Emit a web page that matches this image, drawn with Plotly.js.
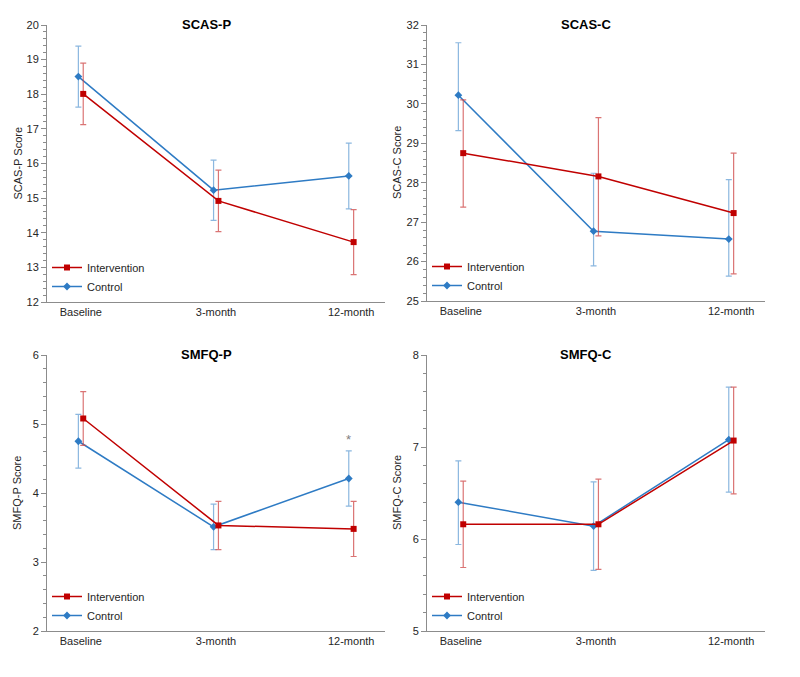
<!DOCTYPE html>
<html>
<head>
<meta charset="utf-8">
<script src="https://cdn.plot.ly/plotly-3.0.1.min.js"></script>
<style>
  html, body { margin: 0; padding: 0; background: #fff; }
  #myPlot { width: 800px; height: 677px; }
</style>
</head>
<body>
<div id="myPlot"></div>
<script>
const timepoints = ['Baseline', '3-month', '12-month'];
const groupNames = ['Intervention', 'Control'];

// SCAS-P
const scasP_int = [18.01, 14.92, 13.73];
const scasP_int_up = [0.89, 0.89, 0.94];
const scasP_int_down = [0.89, 0.89, 0.94];
const scasP_ctl = [18.51, 15.23, 15.64];
const scasP_ctl_up = [0.88, 0.87, 0.95];
const scasP_ctl_down = [0.88, 0.87, 0.95];

// SCAS-C
const scasC_int = [28.75, 28.16, 27.23];
const scasC_int_up = [1.35, 1.49, 1.52];
const scasC_int_down = [1.37, 1.51, 1.54];
const scasC_ctl = [30.22, 26.77, 26.57];
const scasC_ctl_up = [1.33, 1.47, 1.51];
const scasC_ctl_down = [0.90, 0.88, 0.94];

// SMFQ-P
const smfqP_int = [5.08, 3.53, 3.48];
const smfqP_int_up = [0.39, 0.35, 0.40];
const smfqP_int_down = [0.39, 0.35, 0.40];
const smfqP_ctl = [4.75, 3.51, 4.21];
const smfqP_ctl_up = [0.39, 0.33, 0.40];
const smfqP_ctl_down = [0.39, 0.33, 0.40];

// SMFQ-C
const smfqC_int = [6.16, 6.16, 7.07];
const smfqC_int_up = [0.47, 0.49, 0.58];
const smfqC_int_down = [0.47, 0.49, 0.58];
const smfqC_ctl = [6.40, 6.14, 7.08];
const smfqC_ctl_up = [0.45, 0.48, 0.57];
const smfqC_ctl_down = [0.46, 0.48, 0.57];

const panelTitles = ['SCAS-P', 'SCAS-C', 'SMFQ-P', 'SMFQ-C'];
const axisTitles = ['SCAS-P Score', 'SCAS-C Score', 'SMFQ-P Score', 'SMFQ-C Score'];
const yRanges = [[12, 20], [25, 32], [2, 6], [5, 8]];

const RED = '#C00000';
const BLUE = '#2E7BC4';
const RED_ERR = 'rgba(205, 70, 70, 0.75)';
const BLUE_ERR = 'rgba(110, 165, 215, 0.8)';
const AXIS_COLOR = '#8c8c8c';
const TEXT_COLOR = '#262626';
const FONT = '"Liberation Sans", Arial, sans-serif';

// small horizontal shift so the two groups don't sit on top of each other
const shift = 0.018;
const xIdx = timepoints.map((t, i) => i);

const panels = [
    {int: scasP_int, intUp: scasP_int_up, intDown: scasP_int_down, ctl: scasP_ctl, ctlUp: scasP_ctl_up, ctlDown: scasP_ctl_down},
    {int: scasC_int, intUp: scasC_int_up, intDown: scasC_int_down, ctl: scasC_ctl, ctlUp: scasC_ctl_up, ctlDown: scasC_ctl_down},
    {int: smfqP_int, intUp: smfqP_int_up, intDown: smfqP_int_down, ctl: smfqP_ctl, ctlUp: smfqP_ctl_up, ctlDown: smfqP_ctl_down},
    {int: smfqC_int, intUp: smfqC_int_up, intDown: smfqC_int_down, ctl: smfqC_ctl, ctlUp: smfqC_ctl_up, ctlDown: smfqC_ctl_down}
];

// pixel boxes of each plot area, converted to paper fractions
const W = 800, H = 677;
const boxes = [
    {l: 47, r: 385, t: 25, b: 302},
    {l: 427, r: 765, t: 25, b: 301},
    {l: 47, r: 385, t: 355, b: 631},
    {l: 427, r: 765, t: 355, b: 631}
];

const traces = [];
const layout = {
    width: W,
    height: H,
    margin: {l: 0, r: 0, t: 0, b: 0},
    paper_bgcolor: '#fff',
    plot_bgcolor: '#fff',
    font: {family: FONT, size: 11, color: TEXT_COLOR},
    showlegend: true,
    annotations: []
};

panels.forEach((p, k) => {
    const n = k + 1;
    const sfx = n === 1 ? '' : String(n);
    const legendId = 'legend' + sfx;
    const box = boxes[k];

    // control first so the intervention series draws on top
    traces.push({
        type: 'scatter',
        mode: 'lines+markers',
        name: groupNames[1],
        x: xIdx.map(v => v - shift),
        y: p.ctl,
        xaxis: 'x' + sfx,
        yaxis: 'y' + sfx,
        legend: legendId,
        line: {color: BLUE, width: 1.5},
        marker: {symbol: 'diamond', size: 6, color: BLUE},
        error_y: {type: 'data', symmetric: false, array: p.ctlUp, arrayminus: p.ctlDown,
                  color: BLUE_ERR, thickness: 1.2, width: 3}
    });
    traces.push({
        type: 'scatter',
        mode: 'lines+markers',
        name: groupNames[0],
        x: xIdx.map(v => v + shift),
        y: p.int,
        xaxis: 'x' + sfx,
        yaxis: 'y' + sfx,
        legend: legendId,
        line: {color: RED, width: 1.5},
        marker: {symbol: 'square', size: 6, color: RED},
        error_y: {type: 'data', symmetric: false, array: p.intUp, arrayminus: p.intDown,
                  color: RED_ERR, thickness: 1.2, width: 3}
    });

    layout['xaxis' + sfx] = {
        domain: [box.l / W, box.r / W],
        anchor: 'y' + sfx,
        range: [-0.25, 2.25],
        tickvals: xIdx,
        ticktext: timepoints,
        showline: true,
        linecolor: AXIS_COLOR,
        linewidth: 1,
        ticks: '',
        showgrid: false,
        zeroline: false,
        tickfont: {size: 11, color: TEXT_COLOR},
        fixedrange: true
    };
    layout['yaxis' + sfx] = {
        domain: [1 - box.b / H, 1 - box.t / H],
        anchor: 'x' + sfx,
        range: yRanges[k],
        dtick: 1,
        showline: true,
        linecolor: AXIS_COLOR,
        linewidth: 1,
        ticks: 'outside',
        ticklen: 5,
        tickcolor: AXIS_COLOR,
        minor: {dtick: 0.2, ticks: 'outside', ticklen: 3, tickcolor: AXIS_COLOR, showgrid: false},
        showgrid: false,
        zeroline: false,
        tickfont: {size: 11, color: TEXT_COLOR},
        fixedrange: true
    };

    layout[legendId] = {
        x: box.l / W,
        y: 1 - (box.b - 49) / H,
        xanchor: 'left',
        yanchor: 'top',
        traceorder: 'reversed',
        bgcolor: 'rgba(0,0,0,0)',
        borderwidth: 0,
        font: {family: FONT, size: 11, color: TEXT_COLOR},
        itemwidth: 30,
        tracegroupgap: 0
    };

    // panel title
    layout.annotations.push({
        xref: 'paper', yref: 'paper',
        x: (box.l + box.r) / 2 / W - 10 / W,
        y: 1 - (box.t - 1) / H,
        text: '<b>' + panelTitles[k] + '</b>',
        showarrow: false,
        xanchor: 'center', yanchor: 'middle',
        font: {family: FONT, size: 13, color: '#000'}
    });
    // y axis title
    layout.annotations.push({
        xref: 'paper', yref: 'paper',
        x: (box.l - 30) / W,
        y: 1 - ((box.t + box.b) / 2) / H,
        text: axisTitles[k],
        textangle: -90,
        showarrow: false,
        xanchor: 'center', yanchor: 'middle',
        font: {family: FONT, size: 11, color: TEXT_COLOR}
    });
});

// significance marker above the 12-month control value of SMFQ-P
layout.annotations.push({
    xref: 'x3', yref: 'y3',
    x: xIdx[2] - shift,
    y: smfqP_ctl[2] + smfqP_ctl_up[2] + 0.16,
    text: '*',
    showarrow: false,
    font: {family: FONT, size: 13, color: '#7f7f7f'}
});

Plotly.newPlot('myPlot', traces, layout, {displayModeBar: false, staticPlot: true});
</script>
</body>
</html>
